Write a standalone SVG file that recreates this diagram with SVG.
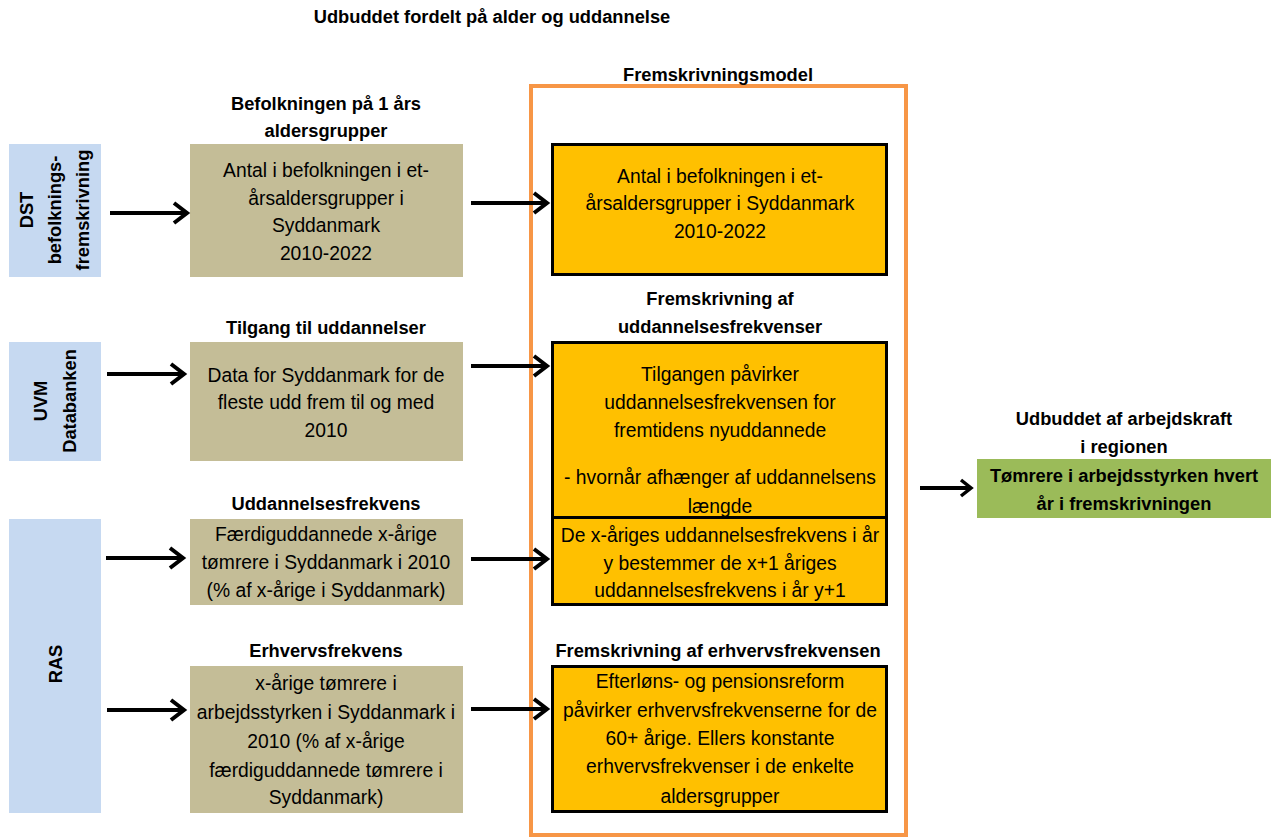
<svg xmlns="http://www.w3.org/2000/svg" width="1272" height="839" viewBox="0 0 1272 839">
<style>
text{font-family:"Liberation Sans",Arial,sans-serif;fill:#000;text-anchor:middle}
.b{font-weight:bold;font-size:18.3px}
.t{font-size:19.3px}
.src{fill:#C6D9F1}
.tan{fill:#C4BD97}
.org{fill:#FFC000;stroke:#000;stroke-width:3}
.ar{stroke:#000;stroke-width:4;fill:none;marker-end:url(#ah)}
</style>
<defs>
<marker id="ah" markerUnits="userSpaceOnUse" markerWidth="20" markerHeight="26" refX="16" refY="12" orient="auto" viewBox="0 0 20 26">
<path d="M3,2 L16,12 L3,22" fill="none" stroke="#000" stroke-width="4" stroke-linejoin="miter"/>
</marker>
<marker id="ahs" markerUnits="userSpaceOnUse" markerWidth="16" markerHeight="20" refX="13" refY="10" orient="auto" viewBox="0 0 16 20">
<path d="M3,2 L13,10 L3,18" fill="none" stroke="#000" stroke-width="3.5"/>
</marker>
</defs>
<rect width="1272" height="839" fill="#fff"/>
<text class="b" x="492" y="23">Udbuddet fordelt på alder og uddannelse</text>

<g id="frame">
<rect x="531" y="86" width="375" height="749" fill="none" stroke="#F79646" stroke-width="4"/>
<text class="b" x="718" y="81">Fremskrivningsmodel</text>
</g>

<g id="src-dst">
<rect class="src" x="9" y="144" width="92" height="133"/>
<text class="b" transform="translate(33,210) rotate(-90)">DST</text>
<text class="b" transform="translate(61,210) rotate(-90)">befolknings-</text>
<text class="b" transform="translate(89,210) rotate(-90)">fremskrivning</text>
</g>
<g id="src-uvm">
<rect class="src" x="9" y="342" width="92" height="119"/>
<text class="b" transform="translate(47,401) rotate(-90)">UVM</text>
<text class="b" transform="translate(76,401) rotate(-90)">Databanken</text>
</g>
<g id="src-ras">
<rect class="src" x="9" y="519" width="92" height="294"/>
<text class="b" transform="translate(62,664) rotate(-90)">RAS</text>
</g>

<g id="n-befolkning">
<text class="b" x="326" y="110">Befolkningen på 1 års</text>
<text class="b" x="326" y="137">aldersgrupper</text>
<rect class="tan" x="190" y="144" width="273" height="133"/>
<text class="t" x="326" y="177">Antal i befolkningen i et-</text>
<text class="t" x="326" y="205">årsaldersgrupper i</text>
<text class="t" x="326" y="232">Syddanmark</text>
<text class="t" x="326" y="260">2010-2022</text>
</g>
<g id="n-tilgang">
<text class="b" x="326" y="334">Tilgang til uddannelser</text>
<rect class="tan" x="190" y="342" width="273" height="119"/>
<text class="t" x="326" y="382">Data for Syddanmark for de</text>
<text class="t" x="326" y="409">fleste udd frem til og med</text>
<text class="t" x="326" y="437">2010</text>
</g>
<g id="n-uddfrek">
<text class="b" x="326" y="510">Uddannelsesfrekvens</text>
<rect class="tan" x="190" y="519" width="273" height="86"/>
<text class="t" x="326" y="541">Færdiguddannede x-årige</text>
<text class="t" x="326" y="569">tømrere i Syddanmark i 2010</text>
<text class="t" x="326" y="597">(% af x-årige i Syddanmark)</text>
</g>
<g id="n-erhfrek">
<text class="b" x="326" y="657">Erhvervsfrekvens</text>
<rect class="tan" x="190" y="666" width="273" height="147"/>
<text class="t" x="326" y="690">x-årige tømrere i</text>
<text class="t" x="326" y="719">arbejdsstyrken i Syddanmark i</text>
<text class="t" x="326" y="748">2010 (% af x-årige</text>
<text class="t" x="326" y="777">færdiguddannede tømrere i</text>
<text class="t" x="326" y="804">Syddanmark)</text>
</g>

<g id="m-befolkning">
<rect class="org" x="552.5" y="144.5" width="334" height="130"/>
<text class="t" x="720" y="183">Antal i befolkningen i et-</text>
<text class="t" x="720" y="210">årsaldersgrupper i Syddanmark</text>
<text class="t" x="720" y="238">2010-2022</text>
</g>
<g id="m-tilgang">
<text class="b" x="720" y="305">Fremskrivning af</text>
<text class="b" x="720" y="333">uddannelsesfrekvenser</text>
<rect class="org" x="552.5" y="342.5" width="334" height="175"/>
<text class="t" x="720" y="381">Tilgangen påvirker</text>
<text class="t" x="720" y="409">uddannelsesfrekvensen for</text>
<text class="t" x="720" y="437">fremtidens nyuddannede</text>
<text class="t" x="720" y="484">- hvornår afhænger af uddannelsens</text>
<text class="t" x="720" y="513">længde</text>
</g>
<g id="m-uddfrek">
<rect class="org" x="552.5" y="517.5" width="334" height="87"/>
<text class="t" x="720" y="542">De x-åriges uddannelsesfrekvens i år</text>
<text class="t" x="720" y="570">y bestemmer de x+1 åriges</text>
<text class="t" x="720" y="597">uddannelsesfrekvens i år y+1</text>
</g>
<g id="m-erhfrek">
<text class="b" x="718" y="657">Fremskrivning af erhvervsfrekvensen</text>
<rect class="org" x="552.5" y="666.5" width="334" height="145"/>
<text class="t" x="720" y="688">Efterløns- og pensionsreform</text>
<text class="t" x="720" y="717">påvirker erhvervsfrekvenserne for de</text>
<text class="t" x="720" y="745">60+ årige. Ellers konstante</text>
<text class="t" x="720" y="773">erhvervsfrekvenser i de enkelte</text>
<text class="t" x="720" y="803">aldersgrupper</text>
</g>

<g id="n-udbud">
<text class="b" x="1124" y="425">Udbuddet af arbejdskraft</text>
<text class="b" x="1124" y="453">i regionen</text>
<rect x="977" y="459" width="294" height="59" fill="#9BBB59"/>
<text class="b" x="1124" y="482">Tømrere i arbejdsstyrken hvert</text>
<text class="b" x="1124" y="510">år i fremskrivningen</text>
</g>

<g id="connectors">
<path class="ar" d="M110,213 H187"/>
<path class="ar" d="M107,374 H184"/>
<path class="ar" d="M106,558 H183"/>
<path class="ar" d="M107,710 H184"/>
<path class="ar" d="M471,203 H547"/>
<path class="ar" d="M471,366 H547"/>
<path class="ar" d="M471,559 H547"/>
<path class="ar" d="M471,709 H547"/>
<path d="M920,488 H971" stroke="#000" stroke-width="4" fill="none" marker-end="url(#ahs)"/>
</g>
</svg>
